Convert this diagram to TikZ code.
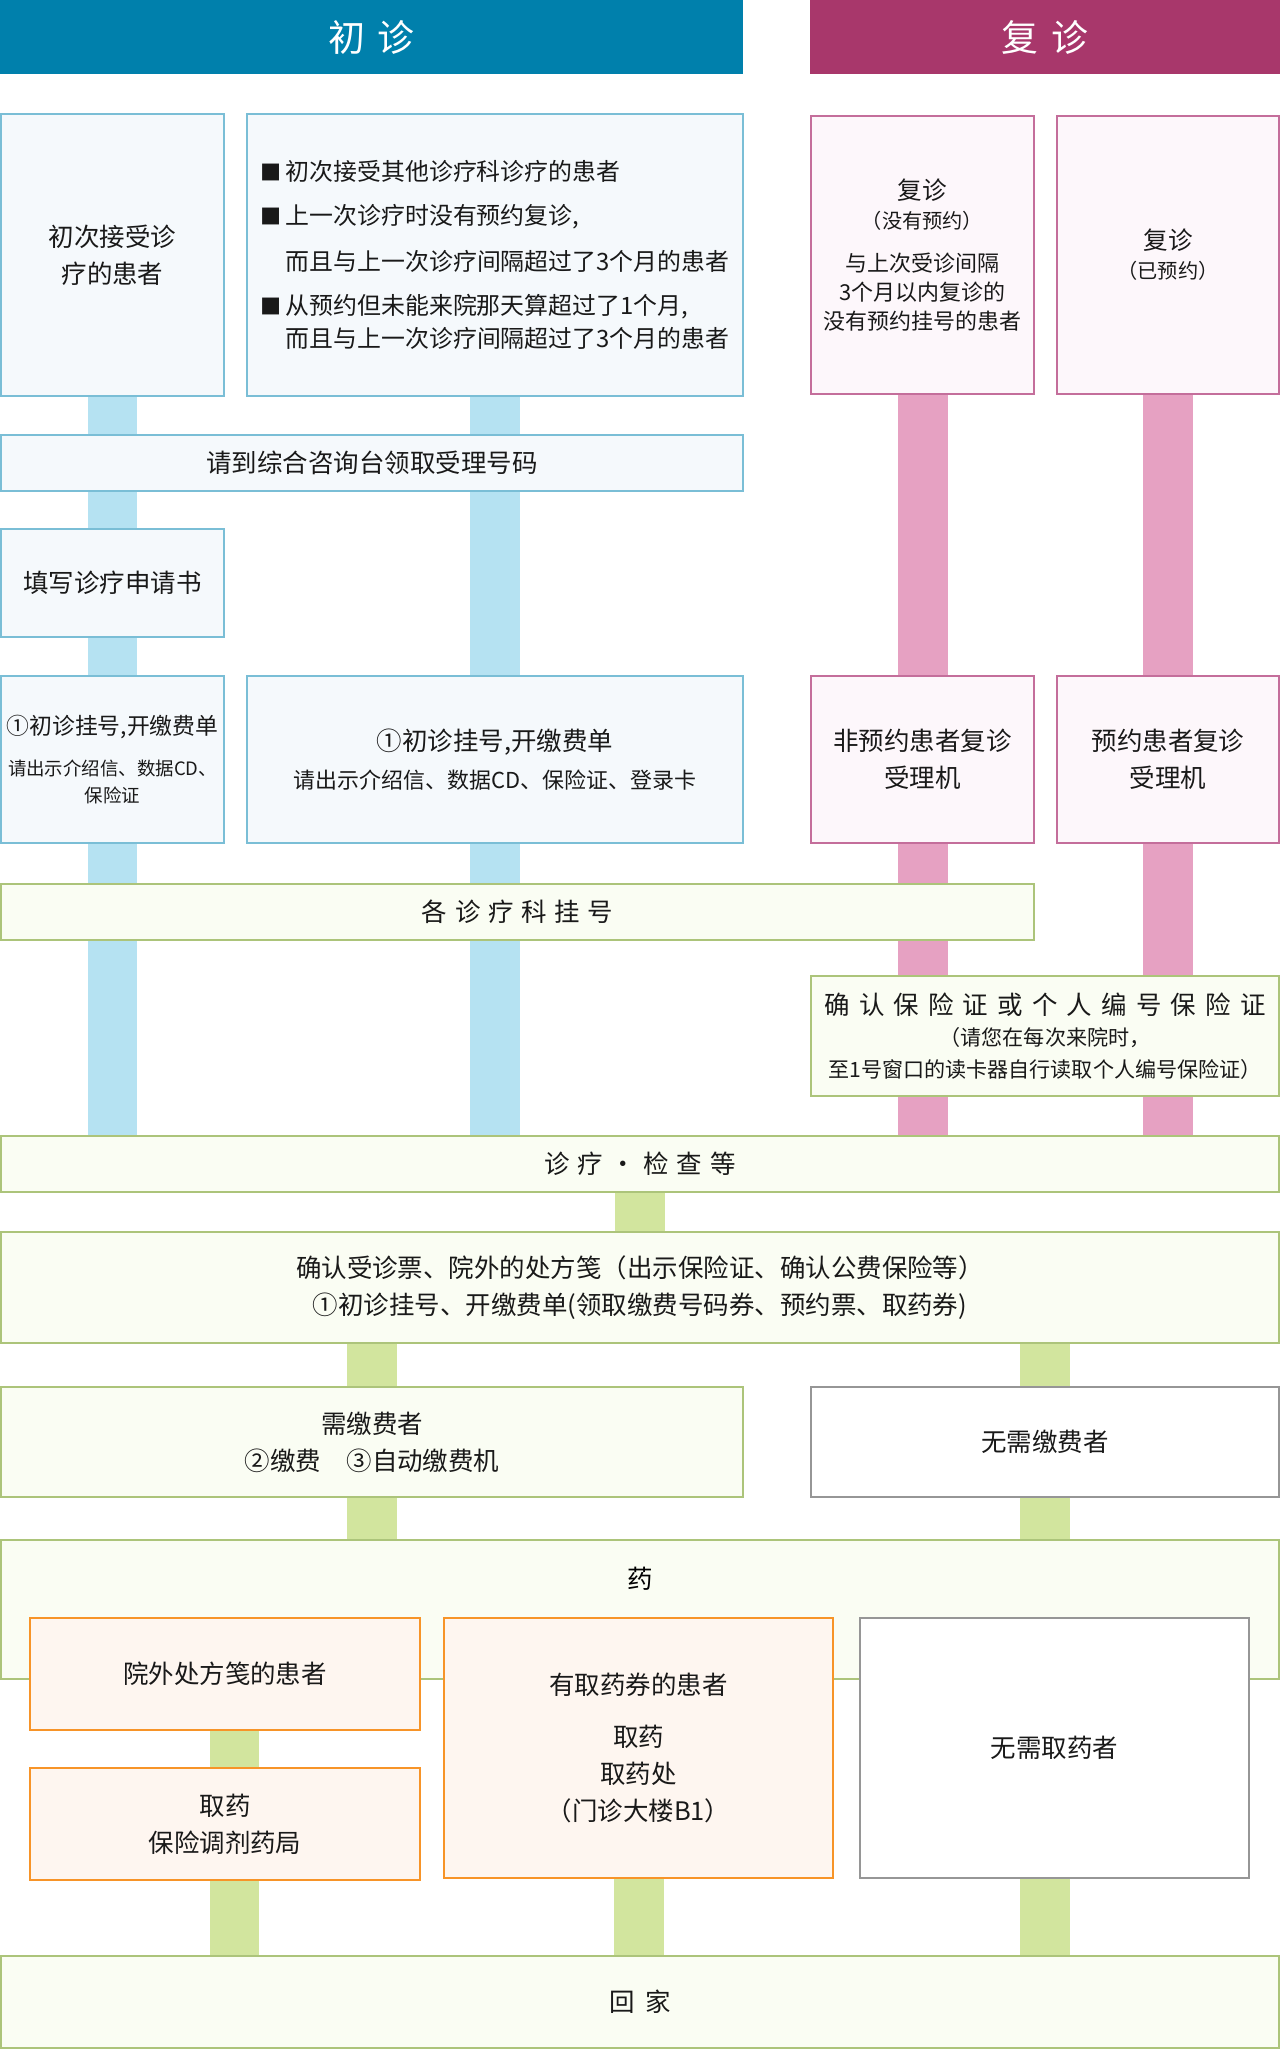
\documentclass[tikz,border=0pt]{standalone}
\usepackage{fontspec}
\setmainfont{Noto Sans CJK SC}
\usetikzlibrary{positioning,backgrounds}
\definecolor{HeadBlue}{RGB}{0,128,172}
\definecolor{HeadRose}{RGB}{168,55,107}
\definecolor{LineBlue}{RGB}{122,190,214}
\definecolor{TintBlue}{RGB}{245,249,252}
\definecolor{BarBlue}{RGB}{181,226,242}
\definecolor{LineRose}{RGB}{196,110,155}
\definecolor{TintRose}{RGB}{253,247,251}
\definecolor{BarRose}{RGB}{230,161,194}
\definecolor{LineGreen}{RGB}{172,196,122}
\definecolor{TintGreen}{RGB}{250,253,243}
\definecolor{BarGreen}{RGB}{210,229,158}
\definecolor{LineOrange}{RGB}{247,148,40}
\definecolor{TintOrange}{RGB}{254,246,240}
\definecolor{LineGray}{RGB}{150,150,150}
\newcommand{\kgap}{\hspace{0.3em}}
\newcommand{\wgap}{\hspace{0.36em}}
\tikzset{
  box/.style={rectangle,line width=1.1pt,align=center,inner sep=0pt,
    text=black!90,font=\fontsize{14.5}{21}\selectfont},
  bluebox/.style={box,draw=LineBlue,fill=TintBlue},
  rosebox/.style={box,draw=LineRose,fill=TintRose},
  greenbox/.style={box,draw=LineGreen,fill=TintGreen},
  orangebox/.style={box,draw=LineOrange,fill=TintOrange},
  plainbox/.style={box,draw=LineGray,fill=white},
  head/.style={rectangle,inner sep=0pt,text=white,minimum height=1.48cm,
    font=\fontsize{21}{25}\selectfont},
  bar/.style={line width=1cm},
  bluebar/.style={bar,draw=BarBlue},
  rosebar/.style={bar,draw=BarRose},
  greenbar/.style={bar,draw=BarGreen},
}

\begin{document}
\begin{tikzpicture}[x=0.02cm,y=-0.02cm]
\useasboundingbox (0,0) rectangle (1280,2049);
% headers
\node[head,fill=HeadBlue,minimum width=14.86cm] (hdrnew) at (371.5,37) {初\hspace{0.35em}诊};
\node[head,fill=HeadRose,minimum width=9.4cm] (hdrret) at (1045,37) {复\hspace{0.35em}诊};
% first visit
\node[bluebox,minimum width=4.46cm,minimum height=5.64cm] (new1) at (112.5,255)
  {初次接受诊\\疗的患者};
\node[bluebox,minimum width=9.92cm,minimum height=5.64cm,
  font=\fontsize{13.6}{18.8}\selectfont,align=left] (new2) at (495,255)
  {{\fontsize{12}{12}\selectfont ■}\,初次接受其他诊疗科诊疗的患者\\[5.7pt]
   {\fontsize{12}{12}\selectfont ■}\,上一次诊疗时没有预约复诊,\\[7.4pt]
   \hspace*{1.05em}而且与上一次诊疗间隔超过了3个月的患者\\[6.3pt]
   {\fontsize{12}{12}\selectfont ■}\,从预约但未能来院那天算超过了1个月,\\
   \hspace*{1.05em}而且与上一次诊疗间隔超过了3个月的患者};
% return visit
\node[rosebox,minimum width=4.46cm,minimum height=5.56cm,
  font=\fontsize{14}{16.5}\selectfont] (ret1) at (922.5,255)
  {复诊\\{\fontsize{11.5}{12}\selectfont （没有预约）}\\[8pt]
   {\fontsize{12.5}{14}\selectfont 与上次受诊间隔}\\
   {\fontsize{12.5}{14}\selectfont 3个月以内复诊的}\\
   {\fontsize{12.5}{14}\selectfont 没有预约挂号的患者}};
\node[rosebox,minimum width=4.44cm,minimum height=5.56cm,
  font=\fontsize{14}{16.5}\selectfont] (ret2) at (1168,255)
  {复诊\\{\fontsize{11.5}{12}\selectfont （已预约）}};
\node[bluebox,minimum width=14.84cm,minimum height=1.12cm] (desk) at (372,463)
  {请到综合咨询台领取受理号码};
\node[bluebox,minimum width=4.46cm,minimum height=2.16cm] (form) at (112.5,583)
  {填写诊疗申请书};
\node[bluebox,minimum width=4.46cm,minimum height=3.34cm,
  font=\fontsize{13}{15.4}\selectfont] (reg1) at (112.5,759.5)
  {①初诊挂号,开缴费单\\[8pt]
   {\fontsize{10.5}{12}\selectfont 请出示介绍信、数据CD、}\\
   {\fontsize{10.5}{12}\selectfont 保险证}};
\node[bluebox,minimum width=9.92cm,minimum height=3.34cm,
  font=\fontsize{14.5}{22}\selectfont] (reg2) at (495,759.5)
  {①初诊挂号,开缴费单\\
   {\fontsize{12.5}{14}\selectfont 请出示介绍信、数据CD、保险证、登录卡}};
\node[rosebox,minimum width=4.46cm,minimum height=3.34cm] (kiosk1) at (922.5,759.5)
  {非预约患者复诊\\受理机};
\node[rosebox,minimum width=4.44cm,minimum height=3.34cm] (kiosk2) at (1168,759.5)
  {预约患者复诊\\受理机};
% common steps
\node[greenbox,minimum width=20.66cm,minimum height=1.12cm] (dept) at (517.5,912)
  {各\kgap 诊\kgap 疗\kgap 科\kgap 挂\kgap 号};
\node[greenbox,minimum width=9.36cm,minimum height=2.4cm,
  font=\fontsize{14.5}{18}\selectfont] (card) at (1045,1036)
  {确\wgap 认\wgap 保\wgap 险\wgap 证\wgap 或\wgap 个\wgap 人\wgap 编\wgap 号\wgap 保\wgap 险\wgap 证\\
   {\fontsize{12}{13}\selectfont （请您在每次来院时，}\\
   {\fontsize{12}{13}\selectfont 至1号窗口的读卡器自行读取个人编号保险证）}};
\node[greenbox,minimum width=25.56cm,minimum height=1.12cm] (exam) at (640,1164)
  {诊\kgap 疗\kgap ・\kgap 检\kgap 查\kgap 等};
\node[greenbox,minimum width=25.56cm,minimum height=2.22cm] (check) at (640,1287.5)
  {确认受诊票、院外的处方笺（出示保险证、确认公费保险等）\\
   ①初诊挂号、开缴费单(领取缴费号码券、预约票、取药券)};
\node[greenbox,minimum width=14.84cm,minimum height=2.2cm] (pay) at (372,1442)
  {需缴费者\\②缴费\hspace{1em}③自动缴费机};
\node[plainbox,minimum width=9.36cm,minimum height=2.2cm] (nopay) at (1045,1442)
  {无需缴费者};
% medicine
\node[greenbox,minimum width=25.56cm,minimum height=2.78cm,
  label={[anchor=center,yshift=-0.8cm,font=\fontsize{14.5}{21}\selectfont]north:药}] (med) at (640,1609.5) {};
\node[orangebox,minimum width=7.8cm,minimum height=2.24cm] (outrx) at (225,1674)
  {院外处方笺的患者};
\node[orangebox,minimum width=7.8cm,minimum height=2.24cm] (pharm) at (225,1824)
  {取药\\保险调剂药局};
\node[orangebox,minimum width=7.78cm,minimum height=5.2cm] (ticket) at (638.5,1748)
  {有取药券的患者\\[8.5pt]取药\\取药处\\（门诊大楼B1）};
\node[plainbox,minimum width=7.78cm,minimum height=5.2cm] (nomed) at (1054.5,1748)
  {无需取药者};
\node[greenbox,minimum width=25.56cm,minimum height=1.84cm] (home) at (640,2002)
  {回\hspace{0.4em}家};
\coordinate (rxbar) at ([xshift=0.19cm]pharm.south);
% bars behind the boxes
\begin{scope}[on background layer]
\draw[bluebar] (new1.south) -- (new1.south |- exam.north);
\draw[bluebar] (new2.south) -- (new2.south |- exam.north);
\draw[rosebar] (ret1.south) -- (ret1.south |- exam.north);
\draw[rosebar] (ret2.south) -- (ret2.south |- exam.north);
\draw[greenbar] (exam.south) -- (check.north);
\draw[greenbar] (pay.north |- check.south) -- (pay.north);
\draw[greenbar] (nopay.north |- check.south) -- (nopay.north);
\draw[greenbar] (pay.south) -- (pay.south |- med.north);
\draw[greenbar] (nopay.south) -- (nopay.south |- med.north);
\draw[greenbar] (outrx.south -| rxbar) -- (rxbar |- pharm.north);
\draw[greenbar] (rxbar) -- (rxbar |- home.north);
\draw[greenbar] (ticket.south) -- (ticket.south |- home.north);
\draw[greenbar] (nomed.south -| nopay) -- (nopay |- home.north);
\end{scope}
\end{tikzpicture}
\end{document}
